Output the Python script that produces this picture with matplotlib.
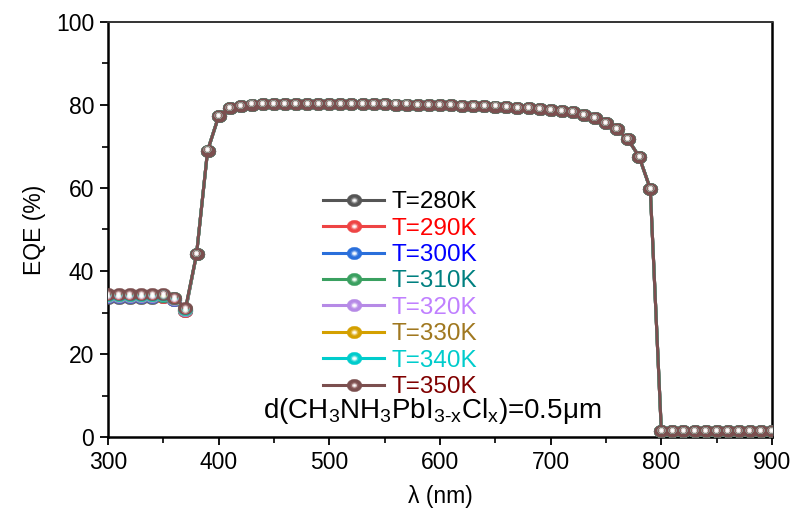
import matplotlib
matplotlib.use("Agg")
import numpy as np
import matplotlib.pyplot as plt
from matplotlib.legend_handler import HandlerTuple
from matplotlib.path import Path
from matplotlib import transforms

plt.rcParams['font.family'] = ['Liberation Sans', 'DejaVu Sans']
plt.rcParams['mathtext.fontset'] = 'custom'
plt.rcParams['mathtext.rm'] = 'Liberation Sans'
plt.rcParams['mathtext.it'] = 'Liberation Sans'
plt.rcParams['mathtext.default'] = 'regular'

# Wavelength grid (nm)
wavelength = list(range(300, 910, 10))

# EQE (%) below the absorption edge, per temperature (300-370 nm)
uv_280 = [33.6, 33.6, 33.6, 33.6, 33.6, 33.7, 32.9, 30.3]
uv_290 = [33.7, 33.7, 33.7, 33.7, 33.7, 33.8, 33.0, 30.4]
uv_300 = [33.8, 33.8, 33.8, 33.8, 33.8, 33.9, 33.1, 30.5]
uv_310 = [33.9, 33.9, 33.9, 33.9, 33.9, 34.0, 33.2, 30.6]
uv_320 = [34.0, 34.0, 34.0, 34.0, 34.0, 34.1, 33.3, 30.7]
uv_330 = [34.1, 34.1, 34.1, 34.1, 34.1, 34.2, 33.4, 30.8]
uv_340 = [34.2, 34.2, 34.2, 34.2, 34.2, 34.3, 33.5, 30.9]
uv_350 = [34.4, 34.4, 34.4, 34.4, 34.4, 34.5, 33.6, 31.0]

# EQE (%) from 380 nm to 900 nm (identical for all temperatures)
visible = [44.0, 69.0, 77.3, 79.2, 79.8, 80.1, 80.2, 80.2, 80.2, 80.2,
           80.2, 80.2, 80.2, 80.2, 80.2, 80.2, 80.2, 80.2, 80.1, 80.1,
           80.0, 80.0, 79.9, 79.9, 79.8, 79.8, 79.7, 79.6, 79.5, 79.3,
           79.2, 79.0, 78.8, 78.6, 78.2, 77.6, 76.8, 75.7, 74.1, 71.7,
           67.5, 59.8, 1.5, 1.5, 1.5, 1.5, 1.5, 1.5, 1.5, 1.5,
           1.5, 1.5, 1.5]

temperatures = ["T=280K", "T=290K", "T=300K", "T=310K",
                "T=320K", "T=330K", "T=340K", "T=350K"]
uv_parts = [uv_280, uv_290, uv_300, uv_310, uv_320, uv_330, uv_340, uv_350]

line_colors = ["#555555", "#ee4444", "#2a6fdb", "#3aa060",
               "#b68ae6", "#d4a000", "#00cccc", "#7b4f4f"]
mid_colors = ["#7a7a7a", "#f27070", "#5a90e6", "#62b27e",
              "#c8a6ee", "#e0b840", "#40dada", "#946868"]
light_colors = ["#cfcfcf", "#fbd0d0", "#c8dcf8", "#c8ead4",
                "#efe4fb", "#f6e6b0", "#c8f6f6", "#d8c2c2"]
text_colors = ["#000000", "#ff0000", "#0000ff", "#008080",
               "#c080ff", "#a07820", "#00cccc", "#800000"]

# slightly flattened ball marker
_t = np.linspace(0, 2 * np.pi, 41)
ellipse = Path(np.column_stack([np.cos(_t), 0.84 * np.sin(_t)]), closed=True)

fig = plt.figure(figsize=(7.96, 5.14), dpi=100)
ax = fig.add_axes([108 / 796, 1 - 437 / 514, 664 / 796, 415 / 514])

hl_trans = transforms.offset_copy(ax.transData, fig=fig, x=-0.5, y=0.9, units='points')

handles = []
for label, uv, lc, mc, lt in zip(temperatures, uv_parts, line_colors, mid_colors, light_colors):
    eqe = uv + visible
    base, = ax.plot(wavelength, eqe, '-', color=lc, lw=2.2, marker=ellipse,
                    ms=10.6, mfc=lc, mec=lc, mew=0.3, zorder=3)
    mid, = ax.plot(wavelength, eqe, ls='none', marker=ellipse, ms=5.6,
                   mfc=mc, mec='none', transform=hl_trans, zorder=4)
    lig, = ax.plot(wavelength, eqe, ls='none', marker=ellipse, ms=3.6,
                   mfc=lt, mec='none', transform=hl_trans, zorder=5)
    hi, = ax.plot(wavelength, eqe, ls='none', marker=ellipse, ms=1.8,
                  mfc='#ffffff', mec='none', transform=hl_trans, zorder=6)
    handles.append((base, mid, lig, hi))

ax.set_xlim(300, 900)
ax.set_ylim(0, 100)
ax.set_xticks(range(300, 1000, 100))
ax.set_xticks(range(350, 900, 100), minor=True)
ax.set_yticks(range(0, 120, 20))
ax.set_yticks(range(10, 100, 20), minor=True)

ax.tick_params(axis='both', which='major', direction='out', length=6, width=1.3,
               labelsize=16.5, pad=4)
ax.tick_params(axis='both', which='minor', direction='out', length=4, width=1.2)
ax.tick_params(top=False, right=False, which='both')

for side in ('left', 'bottom', 'right'):
    ax.spines[side].set_linewidth(1.8)
    ax.spines[side].set_color('black')
ax.spines['top'].set_linewidth(1.4)
ax.spines['top'].set_color('#333333')

ax.set_xlabel("λ (nm)", fontsize=16.5, labelpad=8)
ax.set_ylabel("EQE (%)", fontsize=16.5, labelpad=7)

leg = ax.legend(handles, temperatures, handler_map={tuple: HandlerTuple(ndivide=1)},
                loc='center', bbox_to_anchor=(0.44, 0.343), frameon=False,
                fontsize=17.5, numpoints=1, handlelength=2.5, handletextpad=0.3,
                labelspacing=0.18, borderaxespad=0)
for txt, tc in zip(leg.get_texts(), text_colors):
    txt.set_color(tc)

ax.text(0.488, 0.063, r"d(CH$_3$NH$_3$PbI$_{3\text{-}x}$Cl$_x$)=0.5μm",
        transform=ax.transAxes, ha='center', va='center', fontsize=20)

fig.savefig("out.png", dpi=100)
